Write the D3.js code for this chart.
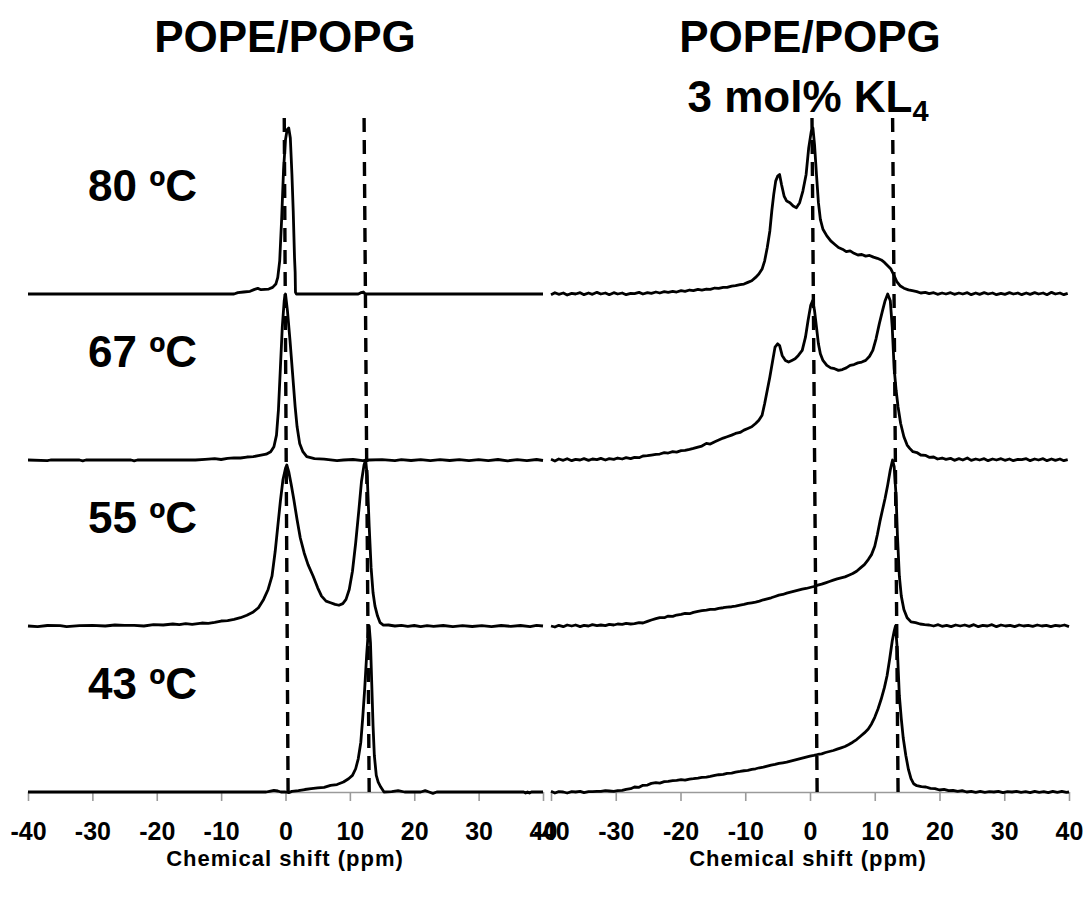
<!DOCTYPE html>
<html>
<head>
<script src="https://d3js.org/d3.v7.min.js"></script>
<style>
  body { margin: 0; background: #fff; }
  text { font-family: "Liberation Sans", Arial, sans-serif; font-weight: bold; }
</style>
</head>
<body>
<svg width="1091" height="902"></svg>
<script>
// ---- data (ppm, normalised intensity) ----
var ticks = [-40, -30, -20, -10, 0, 10, 20, 30, 40];
var temps = ["80 ºC", "67 ºC", "55 ºC", "43 ºC"];
var panelTitles = ["POPE/POPG", "POPE/POPG"];
var axisTitle = "Chemical shift (ppm)";

// left panel, POPE/POPG
var pope80 = [[-40,0],[-8,0],[-7.4,0.008],[-6.5,0.012],[-5.5,0.016],[-4.8,0.028],[-4.3,0.034],[-3.8,0.026],[-3.2,0.028],[-2.6,0.03],[-2.0,0.04],[-1.5,0.06],[-1.2,0.1],[-0.9,0.2],[-0.6,0.45],[-0.3,0.75],[0,0.93],[0.25,0.99],[0.5,1.0],[0.75,0.94],[1.0,0.72],[1.2,0.5],[1.4,0.22],[1.5,0.13],[1.55,0.01],[1.7,0],[11.3,0],[11.7,0.008],[12.1,0.012],[12.4,0],[40,0]];
var pope67 = [[-40,0],[-37,-0.004],[-36.5,0],[-32,0],[-31.5,-0.005],[-31,0],[-24,0],[-23.5,-0.005],[-23,0],[-14,0],[-12.5,0.004],[-11,0.008],[-10,0.003],[-9,0.01],[-8,0.013],[-7,0.012],[-6,0.018],[-5,0.02],[-4,0.028],[-3,0.035],[-2.3,0.05],[-1.8,0.08],[-1.4,0.15],[-1.1,0.3],[-0.8,0.55],[-0.5,0.8],[-0.2,0.96],[0,1.0],[0.3,0.9],[0.7,0.72],[1.1,0.52],[1.5,0.32],[1.8,0.2],[2.2,0.1],[2.7,0.05],[3.3,0.02],[4.5,0.008],[6,0.005],[8,-0.004],[9,0],[10.5,0.003],[12,-0.004],[13,0],[15,0.002],[17,-0.004],[18,0.002],[19.5,-0.003],[21,0.002],[22.5,-0.004],[24,0.002],[25.5,-0.003],[27,0.002],[28.5,-0.004],[30,0.002],[31.5,-0.004],[33,0.003],[34.5,-0.005],[36,0.002],[37.5,-0.004],[39,0.003],[40,-0.003]];
var pope55 = [[-40,0],[-38.5,-0.004],[-37,0.003],[-35,0.002],[-34,-0.004],[-32,0.002],[-30,0.004],[-28,0],[-26.5,0.006],[-25,0.004],[-23.5,0.004],[-22,0],[-20.5,0.008],[-19,0.006],[-17.5,0.012],[-16.5,0.008],[-15.5,0.014],[-14.5,0.01],[-13,0.018],[-12,0.016],[-11,0.022],[-10,0.03],[-9,0.033],[-8,0.04],[-7,0.05],[-6,0.065],[-5,0.085],[-4.2,0.11],[-3.4,0.16],[-2.7,0.22],[-2.1,0.3],[-1.6,0.45],[-1.2,0.6],[-0.8,0.75],[-0.4,0.88],[0,0.95],[0.2,0.97],[0.5,0.93],[0.9,0.85],[1.3,0.76],[1.8,0.64],[2.3,0.53],[2.9,0.44],[3.5,0.37],[4.3,0.3],[5,0.23],[5.6,0.18],[6.3,0.15],[7,0.14],[7.7,0.13],[8.3,0.125],[8.9,0.135],[9.4,0.16],[9.9,0.22],[10.4,0.33],[10.9,0.5],[11.4,0.7],[11.8,0.87],[12.2,0.97],[12.45,1.0],[12.7,0.9],[13.0,0.6],[13.3,0.35],[13.6,0.2],[13.9,0.12],[14.3,0.06],[14.7,0.02],[15.2,0.005],[16,0.006],[17,0],[18,0.004],[19,-0.002],[20,0.003],[21,-0.004],[22,0.002],[23,-0.002],[24.5,0.003],[26,-0.004],[27.5,0.002],[29,-0.003],[30.5,0.002],[32,-0.004],[33.5,0.003],[35,-0.002],[36.5,0.003],[38,-0.004],[39,0.004],[40,0]];
var pope43 = [[-40,0],[-3,0],[-2.5,0.004],[-1.8,0.01],[-1.2,0.006],[-0.7,0],[0,0],[0.5,-0.004],[1,0.004],[2,0.008],[3,0.015],[4,0.02],[5,0.025],[6,0.028],[7,0.04],[8,0.045],[9,0.06],[9.8,0.08],[10.4,0.1],[10.9,0.14],[11.3,0.2],[11.7,0.3],[12.0,0.45],[12.3,0.62],[12.6,0.82],[12.85,0.96],[13.0,1.0],[13.2,0.9],[13.4,0.65],[13.6,0.4],[13.8,0.22],[14.1,0.1],[14.4,0.06],[14.8,0.03],[15.3,0],[16.5,0.002],[17.5,0.008],[18.5,0],[21,0],[21.7,0.008],[22.3,0],[22.9,-0.008],[23.5,0],[37,0],[37.3,-0.006],[37.6,0],[37.9,-0.006],[38.2,0],[40,0]];

// right panel, POPE/POPG + 3 mol% KL4
var kl80 = [[-40,-0.004],[-39.4,0.008],[-38.8,-0.002],[-38.1,0.006],[-37.5,-0.006],[-36.8,0.004],[-36.2,0],[-35.5,0.008],[-34.9,-0.004],[-34.2,0.006],[-33.6,-0.002],[-32.9,0.01],[-32.3,0],[-31.6,0.006],[-31.0,-0.004],[-30.3,0.008],[-29.7,0],[-29.0,0.006],[-28.4,-0.004],[-27.7,0.004],[-27.1,0.002],[-26.4,0.01],[-25.8,0],[-25.1,0.008],[-24.5,0.004],[-23.8,0.012],[-23.2,0.006],[-22.5,0.014],[-21.9,0.01],[-21.2,0.016],[-20.6,0.012],[-19.9,0.02],[-19.3,0.016],[-18.6,0.024],[-18.0,0.02],[-17.3,0.028],[-16.7,0.024],[-16.0,0.03],[-15.4,0.028],[-14.7,0.036],[-14.1,0.034],[-13.4,0.04],[-12.8,0.04],[-12.1,0.048],[-11.5,0.05],[-10.8,0.056],[-10.2,0.06],[-9.6,0.07],[-9.0,0.08],[-8.4,0.1],[-7.9,0.12],[-7.4,0.15],[-7.0,0.2],[-6.6,0.28],[-6.2,0.38],[-5.9,0.5],[-5.6,0.6],[-5.3,0.68],[-5.0,0.71],[-4.7,0.72],[-4.4,0.66],[-4.0,0.59],[-3.6,0.56],[-3.1,0.55],[-2.6,0.53],[-2.1,0.52],[-1.6,0.55],[-1.1,0.62],[-0.6,0.72],[-0.2,0.88],[0.2,0.98],[0.45,1.0],[0.7,0.9],[1.0,0.72],[1.3,0.55],[1.6,0.45],[2.0,0.39],[2.6,0.35],[3.2,0.32],[3.8,0.3],[4.4,0.28],[5.0,0.27],[5.6,0.255],[6.2,0.26],[6.8,0.245],[7.4,0.235],[8.0,0.238],[8.6,0.228],[9.2,0.232],[9.8,0.222],[10.4,0.215],[11.0,0.205],[11.5,0.19],[12.0,0.17],[12.5,0.15],[13.0,0.11],[13.4,0.075],[13.9,0.05],[14.5,0.035],[15.2,0.025],[15.8,0.02],[16.5,0.014],[17.1,0.006],[17.8,0.01],[18.4,0.002],[19.1,0.008],[19.7,-0.002],[20.4,0.006],[21.0,0],[21.7,0.008],[22.3,-0.002],[23.0,0.006],[23.6,0],[24.3,0.008],[24.9,-0.004],[25.6,0.006],[26.2,-0.002],[26.9,0.008],[27.5,0],[28.2,0.006],[28.8,-0.004],[29.5,0.004],[30.1,-0.002],[30.8,0.008],[31.4,0],[32.1,0.006],[32.7,-0.004],[33.4,0.006],[34.0,-0.002],[34.7,0.008],[35.3,0],[36.0,0.006],[36.6,-0.004],[37.3,0.01],[37.9,0],[38.6,0.006],[39.2,-0.004],[39.8,0.004]];
var kl67 = [[-40,0.004],[-39.4,-0.006],[-38.8,0.006],[-38.1,-0.002],[-37.5,0.008],[-36.8,-0.004],[-36.2,0.004],[-35.5,0],[-34.9,0.008],[-34.2,-0.002],[-33.6,0.006],[-32.9,0.002],[-32.3,0.01],[-31.6,0],[-31.0,0.008],[-30.3,0.004],[-29.7,0.012],[-29.0,0.006],[-28.4,0.014],[-27.7,0.008],[-27.1,0.016],[-26.4,0.014],[-25.8,0.024],[-25.1,0.026],[-24.5,0.03],[-23.8,0.034],[-23.2,0.036],[-22.5,0.044],[-21.9,0.042],[-21.2,0.05],[-20.6,0.048],[-19.9,0.056],[-19.3,0.058],[-18.6,0.064],[-18.0,0.07],[-17.3,0.078],[-16.7,0.084],[-16.0,0.1],[-15.4,0.096],[-14.7,0.11],[-14.1,0.12],[-13.4,0.132],[-12.8,0.14],[-12.1,0.15],[-11.5,0.16],[-10.8,0.166],[-10.2,0.18],[-9.6,0.19],[-9.0,0.2],[-8.4,0.22],[-7.9,0.24],[-7.4,0.27],[-7.0,0.34],[-6.6,0.42],[-6.2,0.5],[-5.8,0.59],[-5.4,0.68],[-5.0,0.7],[-4.7,0.69],[-4.3,0.63],[-3.8,0.6],[-3.3,0.59],[-2.8,0.6],[-2.3,0.61],[-1.8,0.63],[-1.2,0.66],[-0.7,0.74],[-0.3,0.84],[0.1,0.93],[0.4,0.96],[0.7,0.9],[1.0,0.8],[1.3,0.7],[1.6,0.64],[2.0,0.6],[2.6,0.57],[3.2,0.555],[3.8,0.55],[4.4,0.54],[5.0,0.545],[5.6,0.555],[6.2,0.57],[6.8,0.575],[7.4,0.585],[8.0,0.59],[8.6,0.6],[9.2,0.625],[9.7,0.66],[10.2,0.73],[10.7,0.82],[11.2,0.9],[11.6,0.96],[12.0,1.0],[12.4,0.96],[12.7,0.8],[13.0,0.55],[13.3,0.42],[13.6,0.32],[14.0,0.22],[14.5,0.14],[15.0,0.09],[15.4,0.07],[15.9,0.05],[16.5,0.045],[17.1,0.03],[17.8,0.028],[18.4,0.016],[19.1,0.018],[19.7,0.006],[20.4,0.012],[21.0,0.004],[21.7,0.01],[22.3,-0.002],[23.0,0.008],[23.6,0],[24.3,0.012],[24.9,-0.002],[25.6,0.006],[26.2,0],[26.9,0.008],[27.5,-0.004],[28.2,0.006],[28.8,0],[29.5,0.008],[30.1,-0.002],[30.8,0.006],[31.4,-0.004],[32.1,0.004],[32.7,0.002],[33.4,0.008],[34.0,-0.004],[34.7,0.006],[35.3,0],[36.0,0.008],[36.6,-0.004],[37.3,0.006],[37.9,-0.002],[38.6,0.006],[39.2,-0.004],[39.8,0.002]];
var kl55 = [[-40,0],[-39.4,-0.006],[-38.8,0.004],[-38.1,-0.004],[-37.5,0.006],[-36.8,0],[-36.2,0.006],[-35.5,-0.004],[-34.9,0.004],[-34.2,0],[-33.6,0.008],[-32.9,0.002],[-32.3,0.006],[-31.6,0.002],[-31.0,0.01],[-30.3,0.006],[-29.7,0.012],[-29.0,0.01],[-28.4,0.016],[-27.7,0.012],[-27.1,0.014],[-26.4,0.02],[-25.8,0.018],[-25.1,0.028],[-24.5,0.036],[-23.8,0.044],[-23.2,0.05],[-22.5,0.05],[-21.9,0.06],[-21.2,0.058],[-20.6,0.066],[-19.9,0.07],[-19.3,0.076],[-18.6,0.074],[-18.0,0.082],[-17.3,0.088],[-16.7,0.092],[-16.0,0.096],[-15.4,0.1],[-14.7,0.1],[-14.1,0.106],[-13.4,0.11],[-12.8,0.114],[-12.1,0.116],[-11.5,0.12],[-10.8,0.126],[-10.2,0.13],[-9.6,0.136],[-9.0,0.14],[-8.4,0.144],[-7.8,0.15],[-7.2,0.158],[-6.6,0.164],[-6.0,0.17],[-5.4,0.178],[-4.8,0.186],[-4.2,0.19],[-3.6,0.198],[-3.0,0.204],[-2.4,0.21],[-1.8,0.216],[-1.2,0.222],[-0.6,0.226],[0,0.232],[0.6,0.238],[1.2,0.246],[1.8,0.252],[2.4,0.26],[3.0,0.268],[3.6,0.276],[4.2,0.284],[4.8,0.29],[5.4,0.296],[6.0,0.306],[6.6,0.316],[7.2,0.33],[7.8,0.35],[8.4,0.37],[9.0,0.4],[9.5,0.43],[10.0,0.48],[10.4,0.55],[10.8,0.63],[11.2,0.7],[11.6,0.77],[12.0,0.85],[12.4,0.94],[12.75,1.0],[13.0,0.96],[13.3,0.78],[13.5,0.55],[13.8,0.3],[14.1,0.18],[14.5,0.1],[15.0,0.05],[15.6,0.025],[16.3,0.02],[17.0,0.012],[17.7,0.008],[18.4,0.006],[19.1,0],[19.8,0.008],[20.4,-0.002],[21.1,0.004],[21.8,-0.004],[22.5,0.006],[23.2,0],[23.9,0.006],[24.6,-0.002],[25.3,0.008],[26.0,-0.004],[26.7,0.004],[27.4,0],[28.1,0.008],[28.8,-0.004],[29.5,0.006],[30.2,0],[30.9,0.004],[31.6,-0.004],[32.3,0.006],[33.0,0],[33.7,0.004],[34.4,-0.002],[35.1,0.006],[35.8,0],[36.5,0.004],[37.2,-0.004],[37.9,0.004],[38.6,0],[39.3,0.006],[40,-0.004]];
var kl43 = [[-40,0.004],[-39.4,-0.006],[-38.8,0.002],[-38.1,0],[-37.5,-0.006],[-36.8,0.002],[-36.2,0],[-35.5,0.004],[-34.9,-0.004],[-34.2,0.002],[-33.6,0.002],[-32.9,0.004],[-32.3,0.004],[-31.6,0.008],[-31.0,0.006],[-30.3,0.004],[-29.7,0.008],[-29.0,0.01],[-28.4,0.016],[-27.7,0.02],[-27.1,0.03],[-26.4,0.028],[-25.8,0.04],[-25.1,0.042],[-24.5,0.052],[-23.8,0.056],[-23.2,0.054],[-22.5,0.062],[-21.9,0.064],[-21.2,0.068],[-20.6,0.07],[-19.9,0.074],[-19.3,0.072],[-18.6,0.078],[-18.0,0.08],[-17.3,0.084],[-16.7,0.088],[-16.0,0.09],[-15.4,0.094],[-14.7,0.1],[-14.1,0.104],[-13.4,0.106],[-12.8,0.112],[-12.1,0.114],[-11.5,0.12],[-10.8,0.124],[-10.2,0.128],[-9.6,0.13],[-9.0,0.136],[-8.4,0.14],[-7.8,0.146],[-7.2,0.15],[-6.6,0.156],[-6.0,0.162],[-5.4,0.166],[-4.8,0.172],[-4.2,0.176],[-3.6,0.18],[-3.0,0.186],[-2.4,0.192],[-1.8,0.198],[-1.2,0.204],[-0.6,0.21],[0,0.216],[0.6,0.22],[1.2,0.226],[1.8,0.23],[2.4,0.238],[3.0,0.244],[3.6,0.25],[4.2,0.258],[4.8,0.266],[5.4,0.274],[6.0,0.286],[6.6,0.3],[7.2,0.316],[7.8,0.336],[8.4,0.356],[9.0,0.38],[9.5,0.41],[10.0,0.45],[10.5,0.5],[11.0,0.56],[11.5,0.63],[11.9,0.7],[12.3,0.8],[12.7,0.91],[13.0,0.97],[13.2,1.0],[13.5,0.85],[13.8,0.58],[14.1,0.44],[14.4,0.325],[14.8,0.22],[15.2,0.136],[15.6,0.08],[16.0,0.05],[16.5,0.038],[17.2,0.032],[17.9,0.03],[18.6,0.022],[19.3,0.02],[20.0,0.012],[20.7,0.016],[21.4,0.008],[22.1,0.01],[22.8,0.004],[23.5,0.008],[24.2,0],[24.9,0.004],[25.6,-0.002],[26.3,0.004],[27.0,-0.002],[27.7,0.002],[28.4,0],[29.1,0.004],[29.8,-0.004],[30.5,0.002],[31.2,0],[31.9,0.004],[32.6,-0.002],[33.3,0.002],[34.0,-0.004],[34.7,0.004],[35.4,-0.002],[36.1,0.002],[36.8,-0.004],[37.5,0.004],[38.2,-0.002],[38.9,0.004],[39.6,-0.002],[40,0]];

var leftSpectra = [pope80, pope67, pope55, pope43];
var rightSpectra = [kl80, kl67, kl55, kl43];

// reference lines (ppm at top / ppm at bottom; they lean a little)
var dashLeft = [[-0.2, 0.4], [12.2, 13.0]];
var dashRight = [[0.3, 1.1], [12.75, 13.6]];
var dashTopLevel = 4.1;

// ---- drawing ----
var svg = d3.select("svg");

var xLeft = d3.scaleLinear().domain([-40, 40]).range([28, 543]);
var xRight = d3.scaleLinear().domain([-40, 40]).range([551, 1069]);
// stacked offsets: 43 ºC at 0, 55 at 1, 67 at 2, 80 at 3
var y = d3.scaleLinear().domain([0, 4]).range([792, 128]);

function drawPanel(x, spectra, dashes, cx) {
    var axis = d3.axisBottom(x)
        .tickValues(ticks)
        .tickFormat(function(d) { return String(d); })   // plain hyphen minus
        .tickSize(9).tickSizeOuter(0).tickPadding(21);
    var ax = svg.append("g").attr("transform", "translate(0," + y(0) + ")").call(axis);
    ax.attr("font-size", null).attr("font-family", null);
    ax.select(".domain").attr("stroke", "#9a9a9a").attr("stroke-width", 1.6);
    ax.selectAll(".tick line").attr("stroke", "#9a9a9a").attr("stroke-width", 1.6);
    ax.selectAll(".tick text").attr("fill", "#000").style("font-size", "25px");

    spectra.forEach(function(s, i) {
        var off = 3 - i;
        var line = d3.line()
            .x(function(d) { return x(d[0]); })
            .y(function(d) { return y(d[1] + off); });
        svg.append("path")
            .datum(s)
            .attr("d", line)
            .attr("fill", "none")
            .attr("stroke", "#000")
            .attr("stroke-width", 2.8)
            .attr("stroke-linejoin", "round");
    });

    dashes.forEach(function(d) {
        svg.append("line")
            .attr("x1", x(d[1])).attr("y1", y(0))
            .attr("x2", x(d[0])).attr("y2", y(dashTopLevel))
            .attr("stroke", "#000")
            .attr("stroke-width", 3.4)
            .attr("stroke-dasharray", "14,8");
    });

    svg.append("text")
        .attr("x", cx).attr("y", 866)
        .attr("text-anchor", "middle")
        .style("font-size", "22px")
        .style("letter-spacing", "1px")
        .text(axisTitle);
}

drawPanel(xLeft, leftSpectra, dashLeft, 285);
drawPanel(xRight, rightSpectra, dashRight, 808);

// titles
svg.append("text").attr("x", 285).attr("y", 52).attr("text-anchor", "middle")
    .style("font-size", "44px").text(panelTitles[0]);
svg.append("text").attr("x", 810).attr("y", 52).attr("text-anchor", "middle")
    .style("font-size", "44px").text(panelTitles[1]);
var sub = svg.append("text").attr("x", 808).attr("y", 112).attr("text-anchor", "middle")
    .style("font-size", "44px");
sub.append("tspan").text("3 mol% KL");
sub.append("tspan").attr("dy", 9).style("font-size", "29px").text("4");

// temperature labels
svg.selectAll(".temp")
    .data(temps)
    .enter().append("text")
    .attr("class", "temp")
    .attr("x", 88)
    .attr("y", function(d, i) { return y(3 - i) - 93; })
    .style("font-size", "44px")
    .text(function(d) { return d; });
</script>
</body>
</html>
